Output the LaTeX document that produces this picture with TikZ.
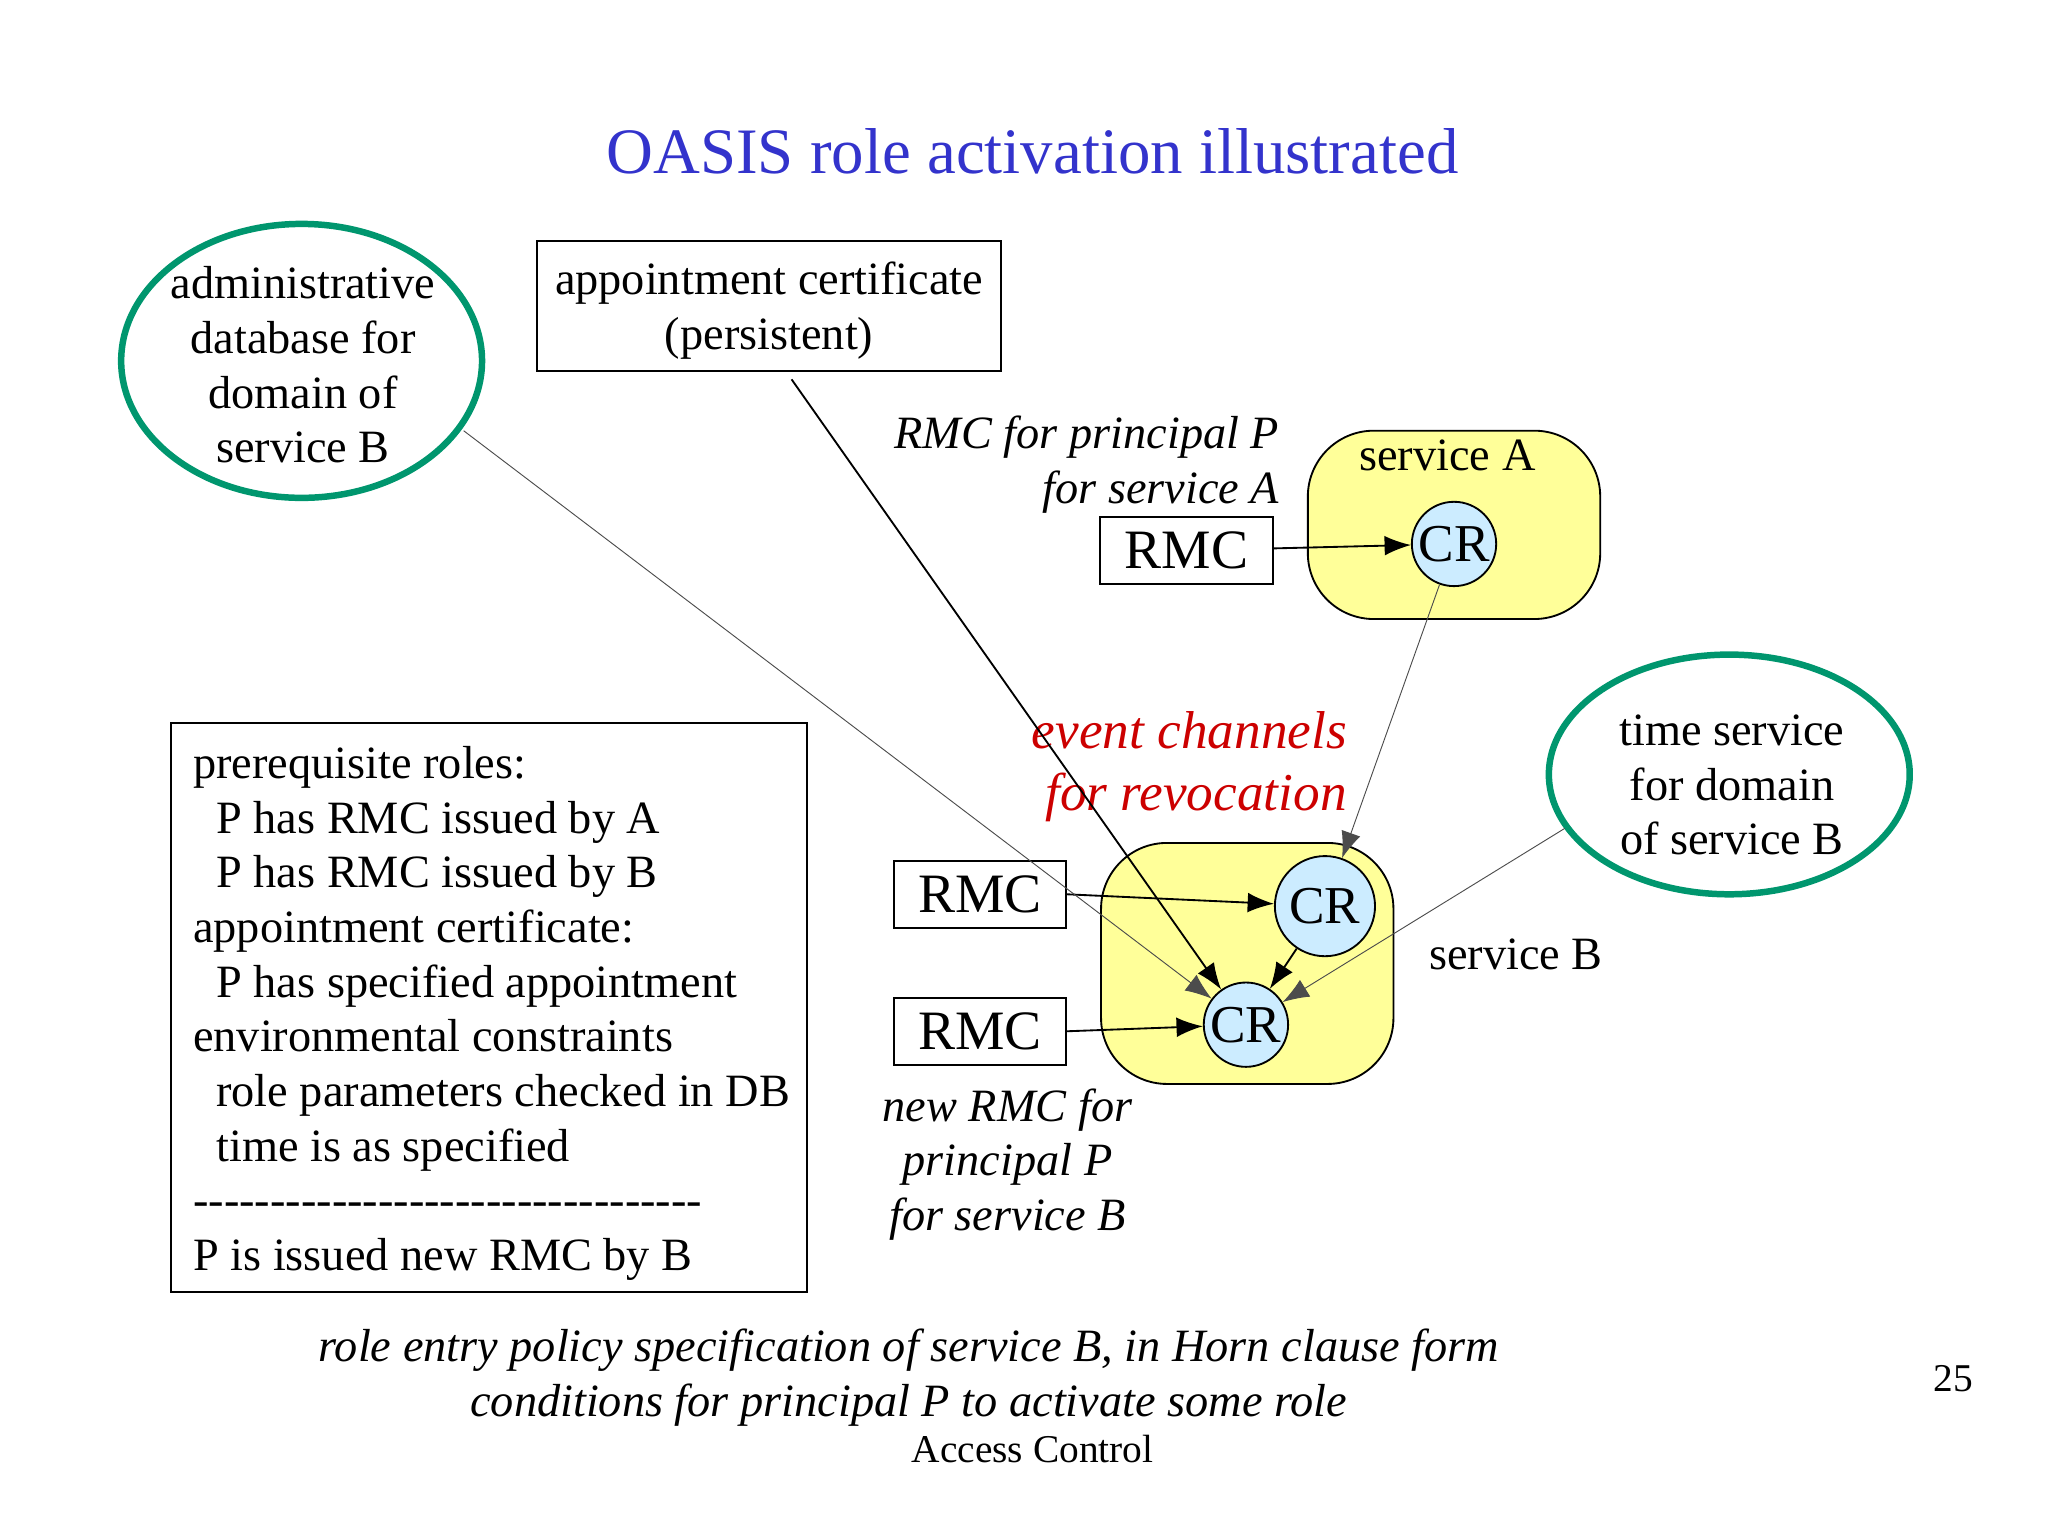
\documentclass[tikz,border=0pt]{standalone}
\usepackage{fontspec}
\setmainfont{Liberation Serif}
\usetikzlibrary{arrows.meta,positioning}
\definecolor{oasisgreen}{RGB}{0,150,110}
\definecolor{svcyellow}{RGB}{255,255,153}
\definecolor{crblue}{RGB}{204,236,255}
\definecolor{titleblue}{RGB}{51,51,204}
\definecolor{evred}{RGB}{204,0,0}
\newcommand\dashrow{-{}-{}-{}-{}-{}-{}-{}-{}-{}-{}-{}-{}-{}-{}-{}-{}-{}-{}-{}-{}-{}-{}-{}-{}-{}-{}-{}-{}-{}-{}-{}-{}-}
\begin{document}
\begin{tikzpicture}
  [x=0.01cm,y=-0.01cm,
   txt/.style={font=\fontsize{10}{11.8}\selectfont,inner sep=0pt,align=center},
   service/.style={draw,fill=svcyellow,rounded corners=0.5cm},
   cr/.style={circle,draw,fill=crblue,inner sep=0pt,font=\fontsize{11.5}{14}\selectfont},
   rmc/.style={draw,minimum width=1.31cm,minimum height=0.51cm,inner sep=0pt,
     font=\fontsize{12}{14}\selectfont},
   >={Latex[length=2mm]}]
  \useasboundingbox (0,0) rectangle (1555,1166);
  \node[font=\fontsize{14}{17}\selectfont,text=titleblue] (title) at (784,115)
    {OASIS role activation illustrated};

  % domains
  \draw[oasisgreen,line width=1.4pt] (229,274) ellipse (137 and 104);
  \node[txt] (admin) at (230,277) {administrative\\database for\\domain of\\service B};
  \coordinate (adminout) at (352,327);
  \draw[oasisgreen,line width=1.4pt] (1313,588) ellipse (137 and 91);
  \node[txt] (time) at (1315,596) {time service\\for domain\\of service B};
  \coordinate (timeout) at (1188,629);

  % appointment certificate
  \draw (408,183) rectangle (760,282);
  \node[txt] (appt) at (584,236) {appointment certificate\\(persistent)};
  \coordinate (apptout) at (601,288);

  % service A
  \draw[service] (993,327) rectangle (1215,470);
  \node[txt] (svcA) at (1099,346) {service A};
  \node[cr,minimum size=0.64cm] (crA) at (1104,413) {CR};
  \node[rmc] (rmcA) at (901,418) {RMC};
  \node[txt,font=\fontsize{10}{11.8}\selectfont\itshape,align=right,anchor=east]
    (rmcAlab) at (972,353) {RMC for principal P\\for service A};

  % service B
  \draw[service] (836,640) rectangle (1058,823);
  \node[txt] (svcB) at (1151,725) {service B};
  \node[cr,minimum size=0.76cm] (crB) at (1006,688) {CR};
  \node[cr,minimum size=0.64cm] (crC) at (946,778) {CR};
  \node[rmc] (rmcB) at (744,679) {RMC};
  \node[rmc] (rmcC) at (744,783) {RMC};
  \node[txt,text=evred,font=\fontsize{11.5}{13.5}\selectfont\itshape] (event) at (903,582)
    {event channels\\\ for revocation};
  \node[txt,font=\fontsize{10}{11.8}\selectfont\itshape] (newrmc) at (765,884)
    {new RMC for\\principal P\\for service B};

  % prerequisites
  \draw (130,549) rectangle (613,981);
  \node[txt,align=left,anchor=north west,font=\fontsize{10}{11.8}\selectfont]
    (prereq) at (146,566) {prerequisite roles:\\
    \ \ P has RMC issued by A\\
    \ \ P has RMC issued by B\\
    appointment certificate:\\
    \ \ P has specified appointment\\
    environmental constraints\\
    \ \ role parameters checked in DB\\
    \ \ time is as specified\\
    \dashrow\\
    P is issued new RMC by B};

  % connectors
  \draw[->] (rmcA) -- (crA);
  \draw[->] (rmcB.east) -- (crB);
  \draw[->] (rmcC.east) -- (crC);
  \draw[->] (crB) -- (crC);
  \draw[->,very thin,gray!60!black] (crA) -- (crB);
  \draw[->,very thin,gray!60!black] (adminout) -- (crC);
  \draw[->,very thin,gray!60!black] (timeout) -- (crC);
  \draw[->] (apptout) -- (crC);

  % captions
  \node[txt,font=\fontsize{10}{11.8}\selectfont\itshape] (caption) at (690,1046)
    {role entry policy specification of service B, in Horn clause form\\
     conditions for principal P to activate some role};
  \node[txt,font=\fontsize{8.5}{10}\selectfont] (footer) at (784,1100) {Access Control};
  \node[txt,font=\fontsize{8.5}{10}\selectfont] (page) at (1483,1047) {25};
\end{tikzpicture}
\end{document}
